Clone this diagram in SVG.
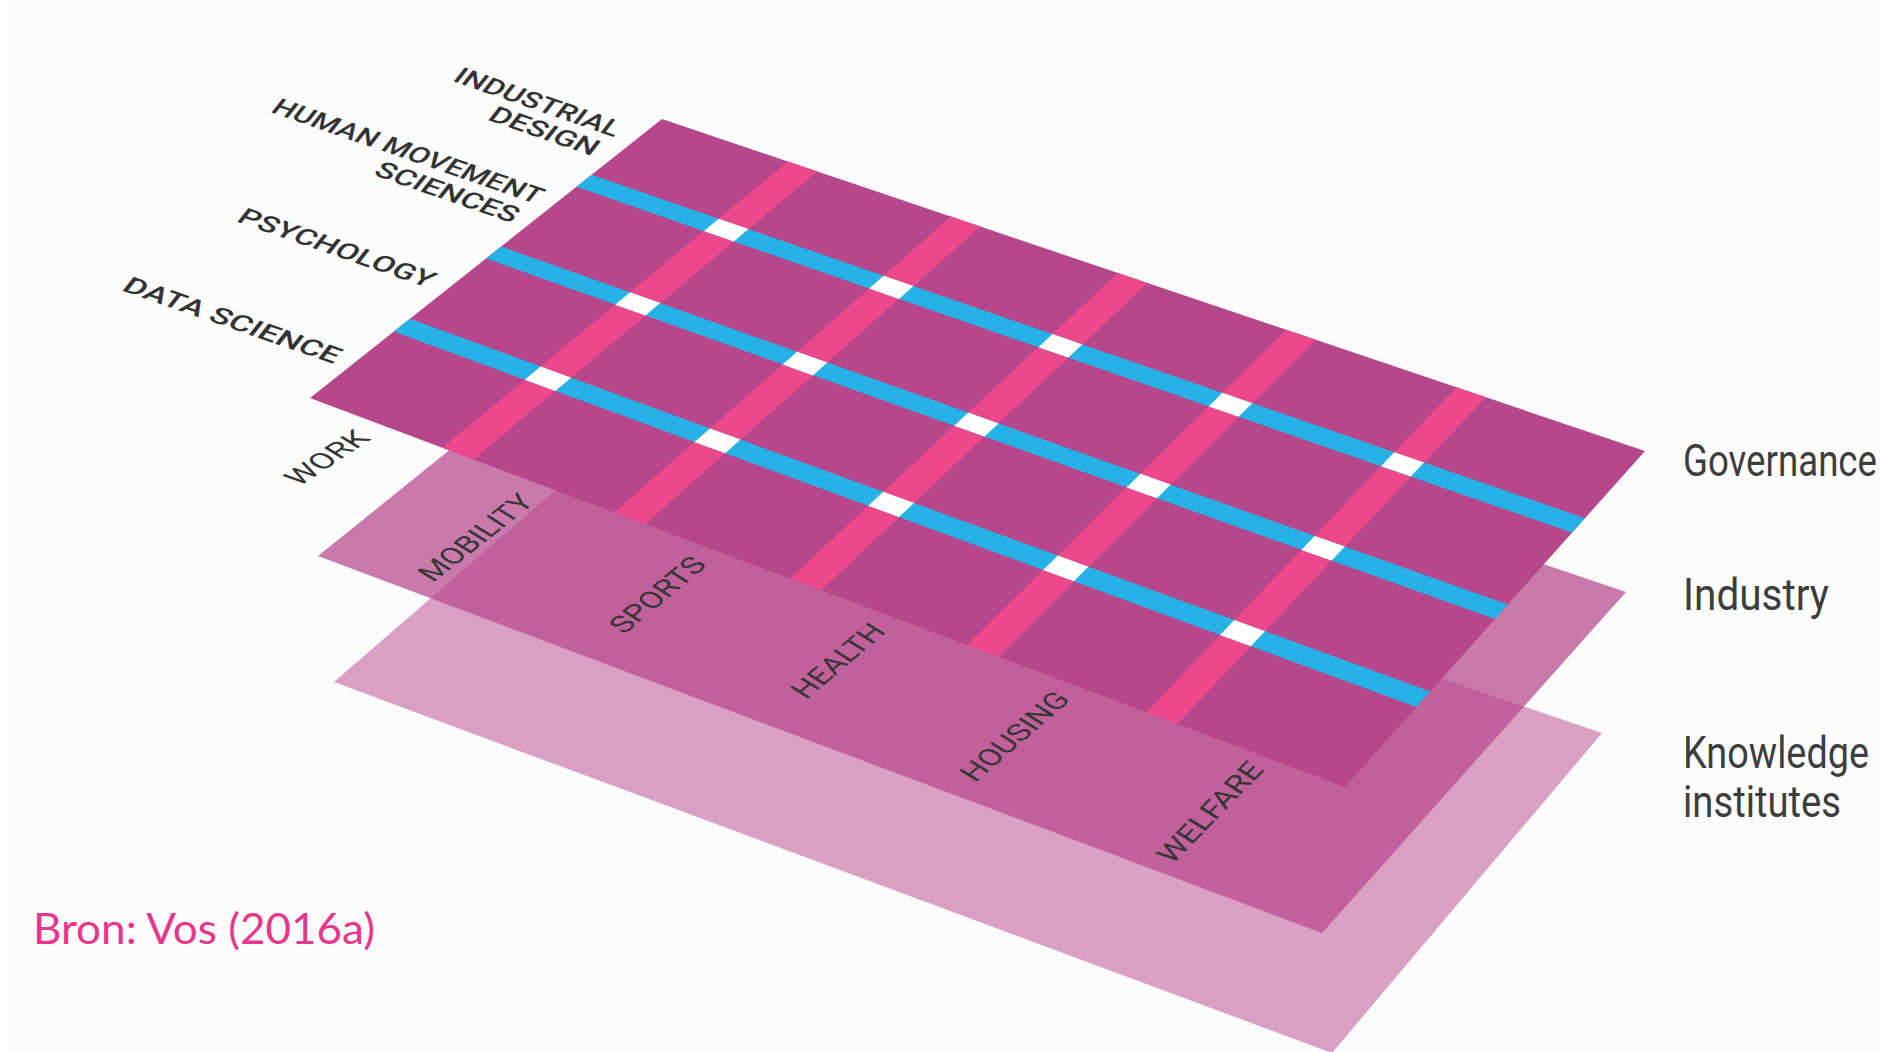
<svg xmlns="http://www.w3.org/2000/svg" width="1880" height="1052" viewBox="0 0 1880 1052">
<style>
.bg{fill:#fcfcfd}
.base{fill:#b7478b}
.pink{fill:#ed488c}
.blue{fill:#26b2e6}
.cross{fill:#ffffff}
.row-label{font-family:Roboto,"DejaVu Sans",sans-serif;font-size:25px;font-weight:500;fill:#333333}
.col-label{font-family:Roboto,"DejaVu Sans",sans-serif;font-size:29px;font-weight:400;fill:#363636}
.layer-label{font-family:Roboto,"DejaVu Sans",sans-serif;font-size:36px;font-weight:400;fill:#3d3d3d}
.source{font-family:Lato,"Open Sans",sans-serif;font-size:42px;fill:#e8378b}
</style>
<rect class="bg" x="0" y="0" width="1880" height="1052"/>
<rect x="0" y="0" width="10" height="1052" fill="#ffffff"/>

<g id="plane-knowledge">
<polygon points="648,410 1602,733 1332,1053 334,682" fill="#b7478b" fill-opacity="0.51"/>
</g>
<g id="plane-industry">
<polygon points="673,270 1626,592 1322,933 318,556" fill="#b7478b" fill-opacity="0.72"/>
</g>
<g id="plane-governance">
<polygon class="base" points="662,119 1645,451 1345,787 310,398"/>
<g id="columns">
<polygon class="pink" points="787.8,161.5 817.3,171.5 473.5,459.5 442.5,447.8"/>
<polygon class="pink" points="951.0,216.6 980.5,226.6 645.3,524.1 614.3,512.4"/>
<polygon class="pink" points="1118.1,273.0 1147.6,283.0 821.3,590.2 790.2,578.4"/>
<polygon class="pink" points="1286.2,329.8 1315.7,339.8 998.3,656.7 967.2,645.0"/>
<polygon class="pink" points="1456.3,387.3 1485.8,397.2 1177.4,724.0 1146.3,712.4"/>
</g>
<g id="rows">
<polygon class="blue" points="591.6,174.8 1585,518.2 1572.1,532.6 576.5,186.8"/>
<polygon class="blue" points="501.1,246.5 1507.9,604.6 1495,619 486,258.5"/>
<polygon class="blue" points="410.0,318.8 1430.2,691.6 1416.4,707.0 393.8,331.6"/>
</g>
<g id="crossings">
<polygon class="cross" points="718.7,218.8 748.5,229.1 733.8,241.5 703.9,231.1"/>
<polygon class="cross" points="630.0,292.3 660.2,303.1 645.4,315.5 615.2,304.7"/>
<polygon class="cross" points="540.6,366.5 571.1,377.7 555.3,391.0 524.7,379.7"/>
<polygon class="cross" points="883.7,275.8 913.5,286.1 899.0,298.9 869.2,288.5"/>
<polygon class="cross" points="797.1,351.8 827.3,362.6 812.9,375.4 782.7,364.5"/>
<polygon class="cross" points="709.9,428.4 740.5,439.6 725.1,453.3 694.4,442.0"/>
<polygon class="cross" points="1052.5,334.1 1082.3,344.4 1068.3,357.6 1038.4,347.2"/>
<polygon class="cross" points="968.2,412.6 998.5,423.4 984.5,436.6 954.2,425.7"/>
<polygon class="cross" points="883.3,491.7 914.0,503.0 899.0,517.1 868.2,505.7"/>
<polygon class="cross" points="1222.4,392.8 1252.2,403.2 1238.6,416.8 1208.7,406.4"/>
<polygon class="cross" points="1140.4,473.8 1170.7,484.6 1157.0,498.3 1126.7,487.4"/>
<polygon class="cross" points="1057.8,555.5 1088.4,566.7 1073.8,581.3 1043.1,570.0"/>
<polygon class="cross" points="1394.3,452.3 1424.1,462.6 1410.9,476.6 1381.0,466.3"/>
<polygon class="cross" points="1314.6,535.9 1344.9,546.5 1331.6,560.6 1301.3,549.9"/>
<polygon class="cross" points="1234.3,620.1 1265.0,631.2 1250.8,646.2 1220.1,635.0"/>
</g>
</g>

<g id="row-labels">
<g id="label-industrial-design">
<text class="row-label" transform="matrix(0.945 0.327 -0.62 0.785 451.5 80.8)" textLength="172" lengthAdjust="spacingAndGlyphs">INDUSTRIAL</text>
<text class="row-label" transform="matrix(0.945 0.327 -0.62 0.785 486.2 119.4)" textLength="112" lengthAdjust="spacingAndGlyphs">DESIGN</text>
</g>
<g id="label-human-movement-sciences">
<text class="row-label" transform="matrix(0.945 0.327 -0.62 0.785 269.5 111.8)" textLength="282" lengthAdjust="spacingAndGlyphs">HUMAN MOVEMENT</text>
<text class="row-label" transform="matrix(0.945 0.327 -0.62 0.785 372.1 174.6)" textLength="148" lengthAdjust="spacingAndGlyphs">SCIENCES</text>
</g>
<g id="label-psychology">
<text class="row-label" transform="matrix(0.945 0.327 -0.62 0.785 235.2 221.3)" textLength="204" lengthAdjust="spacingAndGlyphs">PSYCHOLOGY</text>
</g>
<g id="label-data-science">
<text class="row-label" transform="matrix(0.945 0.327 -0.62 0.785 120.4 290.1)" textLength="226" lengthAdjust="spacingAndGlyphs">DATA SCIENCE</text>
</g>
</g>

<g id="column-labels">
<g id="label-work"><text class="col-label" transform="matrix(0.835 -0.549 0.85 0.527 299 487)" textLength="87" lengthAdjust="spacingAndGlyphs">WORK</text></g>
<g id="label-mobility"><text class="col-label" transform="matrix(0.787 -0.617 0.85 0.527 433 583)" textLength="130" lengthAdjust="spacingAndGlyphs">MOBILITY</text></g>
<g id="label-sports"><text class="col-label" transform="matrix(0.768 -0.640 0.85 0.527 624 635)" textLength="109" lengthAdjust="spacingAndGlyphs">SPORTS</text></g>
<g id="label-health"><text class="col-label" transform="matrix(0.766 -0.643 0.85 0.527 806 700)" textLength="106" lengthAdjust="spacingAndGlyphs">HEALTH</text></g>
<g id="label-housing"><text class="col-label" transform="matrix(0.757 -0.654 0.85 0.527 975 783)" textLength="127" lengthAdjust="spacingAndGlyphs">HOUSING</text></g>
<g id="label-welfare"><text class="col-label" transform="matrix(0.699 -0.715 0.85 0.527 1172 865)" textLength="133" lengthAdjust="spacingAndGlyphs">WELFARE</text></g>
</g>

<g id="layer-labels">
<g id="label-governance"><text class="layer-label" transform="translate(1683 476) scale(1 1.25)" textLength="194" lengthAdjust="spacingAndGlyphs">Governance</text></g>
<g id="label-industry"><text class="layer-label" transform="translate(1683 610) scale(1 1.25)" textLength="146" lengthAdjust="spacingAndGlyphs">Industry</text></g>
<g id="label-knowledge">
<text class="layer-label" transform="translate(1683 768) scale(1 1.25)" textLength="186" lengthAdjust="spacingAndGlyphs">Knowledge</text>
<text class="layer-label" transform="translate(1683 817) scale(1 1.25)" textLength="158" lengthAdjust="spacingAndGlyphs">institutes</text>
</g>
</g>

<g id="source"><text class="source" x="33" y="944" textLength="342" lengthAdjust="spacingAndGlyphs">Bron: Vos (2016a)</text></g>
<g id="connectors"/>
</svg>
